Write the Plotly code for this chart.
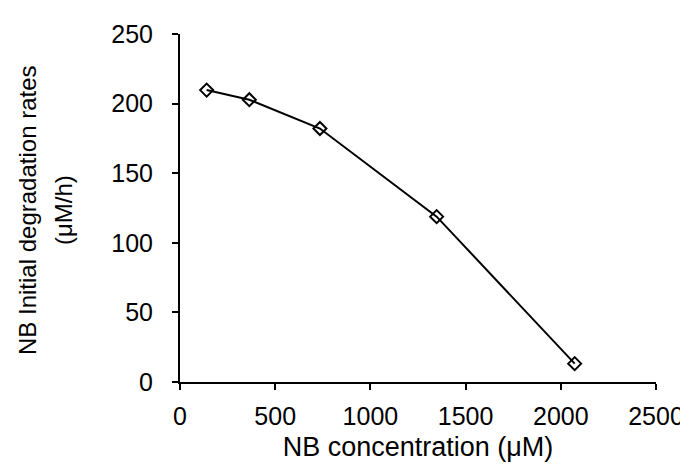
import plotly.graph_objects as go

nb_conc = [140, 364, 735, 1348, 2073]
deg_rate = [209.7, 202.8, 182.1, 118.8, 13.2]
x_ticks = [0, 500, 1000, 1500, 2000, 2500]
y_ticks = [0, 50, 100, 150, 200, 250]
y_title_lines = ["NB Initial degradation rates", "(μM/h)"]

fig = go.Figure()
fig.add_trace(go.Scatter(
    x=nb_conc, y=deg_rate, mode="lines+markers",
    line=dict(color="black", width=2),
    marker=dict(symbol="diamond-open", size=10, color="black", line=dict(width=2)),
    showlegend=False,
))

fam = "Liberation Sans, Arial, sans-serif"
tick_font = dict(family=fam, size=25, color="black")
fig.update_layout(
    width=688, height=467,
    margin=dict(l=172, r=34, t=26, b=93),
    paper_bgcolor="white", plot_bgcolor="white",
    font=dict(family=fam, size=25, color="black"),
)
fig.update_xaxes(
    range=[0, 2500], tickvals=x_ticks, showgrid=False, zeroline=False,
    showline=True, linecolor="black", linewidth=2,
    ticks="outside", ticklen=6, tickcolor="black", tickwidth=1.5,
    tickfont=tick_font, ticklabelstandoff=5,
    title=dict(text="NB concentration (μM)", font=dict(family=fam, size=27, color="black"), standoff=8),
)
fig.update_yaxes(
    range=[0, 250], tickvals=y_ticks, showgrid=False, zeroline=False,
    showline=True, linecolor="black", linewidth=2,
    ticks="outside", ticklen=6, tickcolor="black", tickwidth=1.5,
    tickfont=tick_font, ticklabelstandoff=14,
)
for line_text, xs in zip(y_title_lines, [-153, -117]):
    fig.add_annotation(
        text=line_text, xref="paper", yref="paper", x=0, y=0.5,
        xanchor="center", yanchor="middle", xshift=xs, yshift=-2,
        textangle=-90, showarrow=False,
        font=dict(family=fam, size=24, color="black"),
    )
fig.write_html("out.html")
